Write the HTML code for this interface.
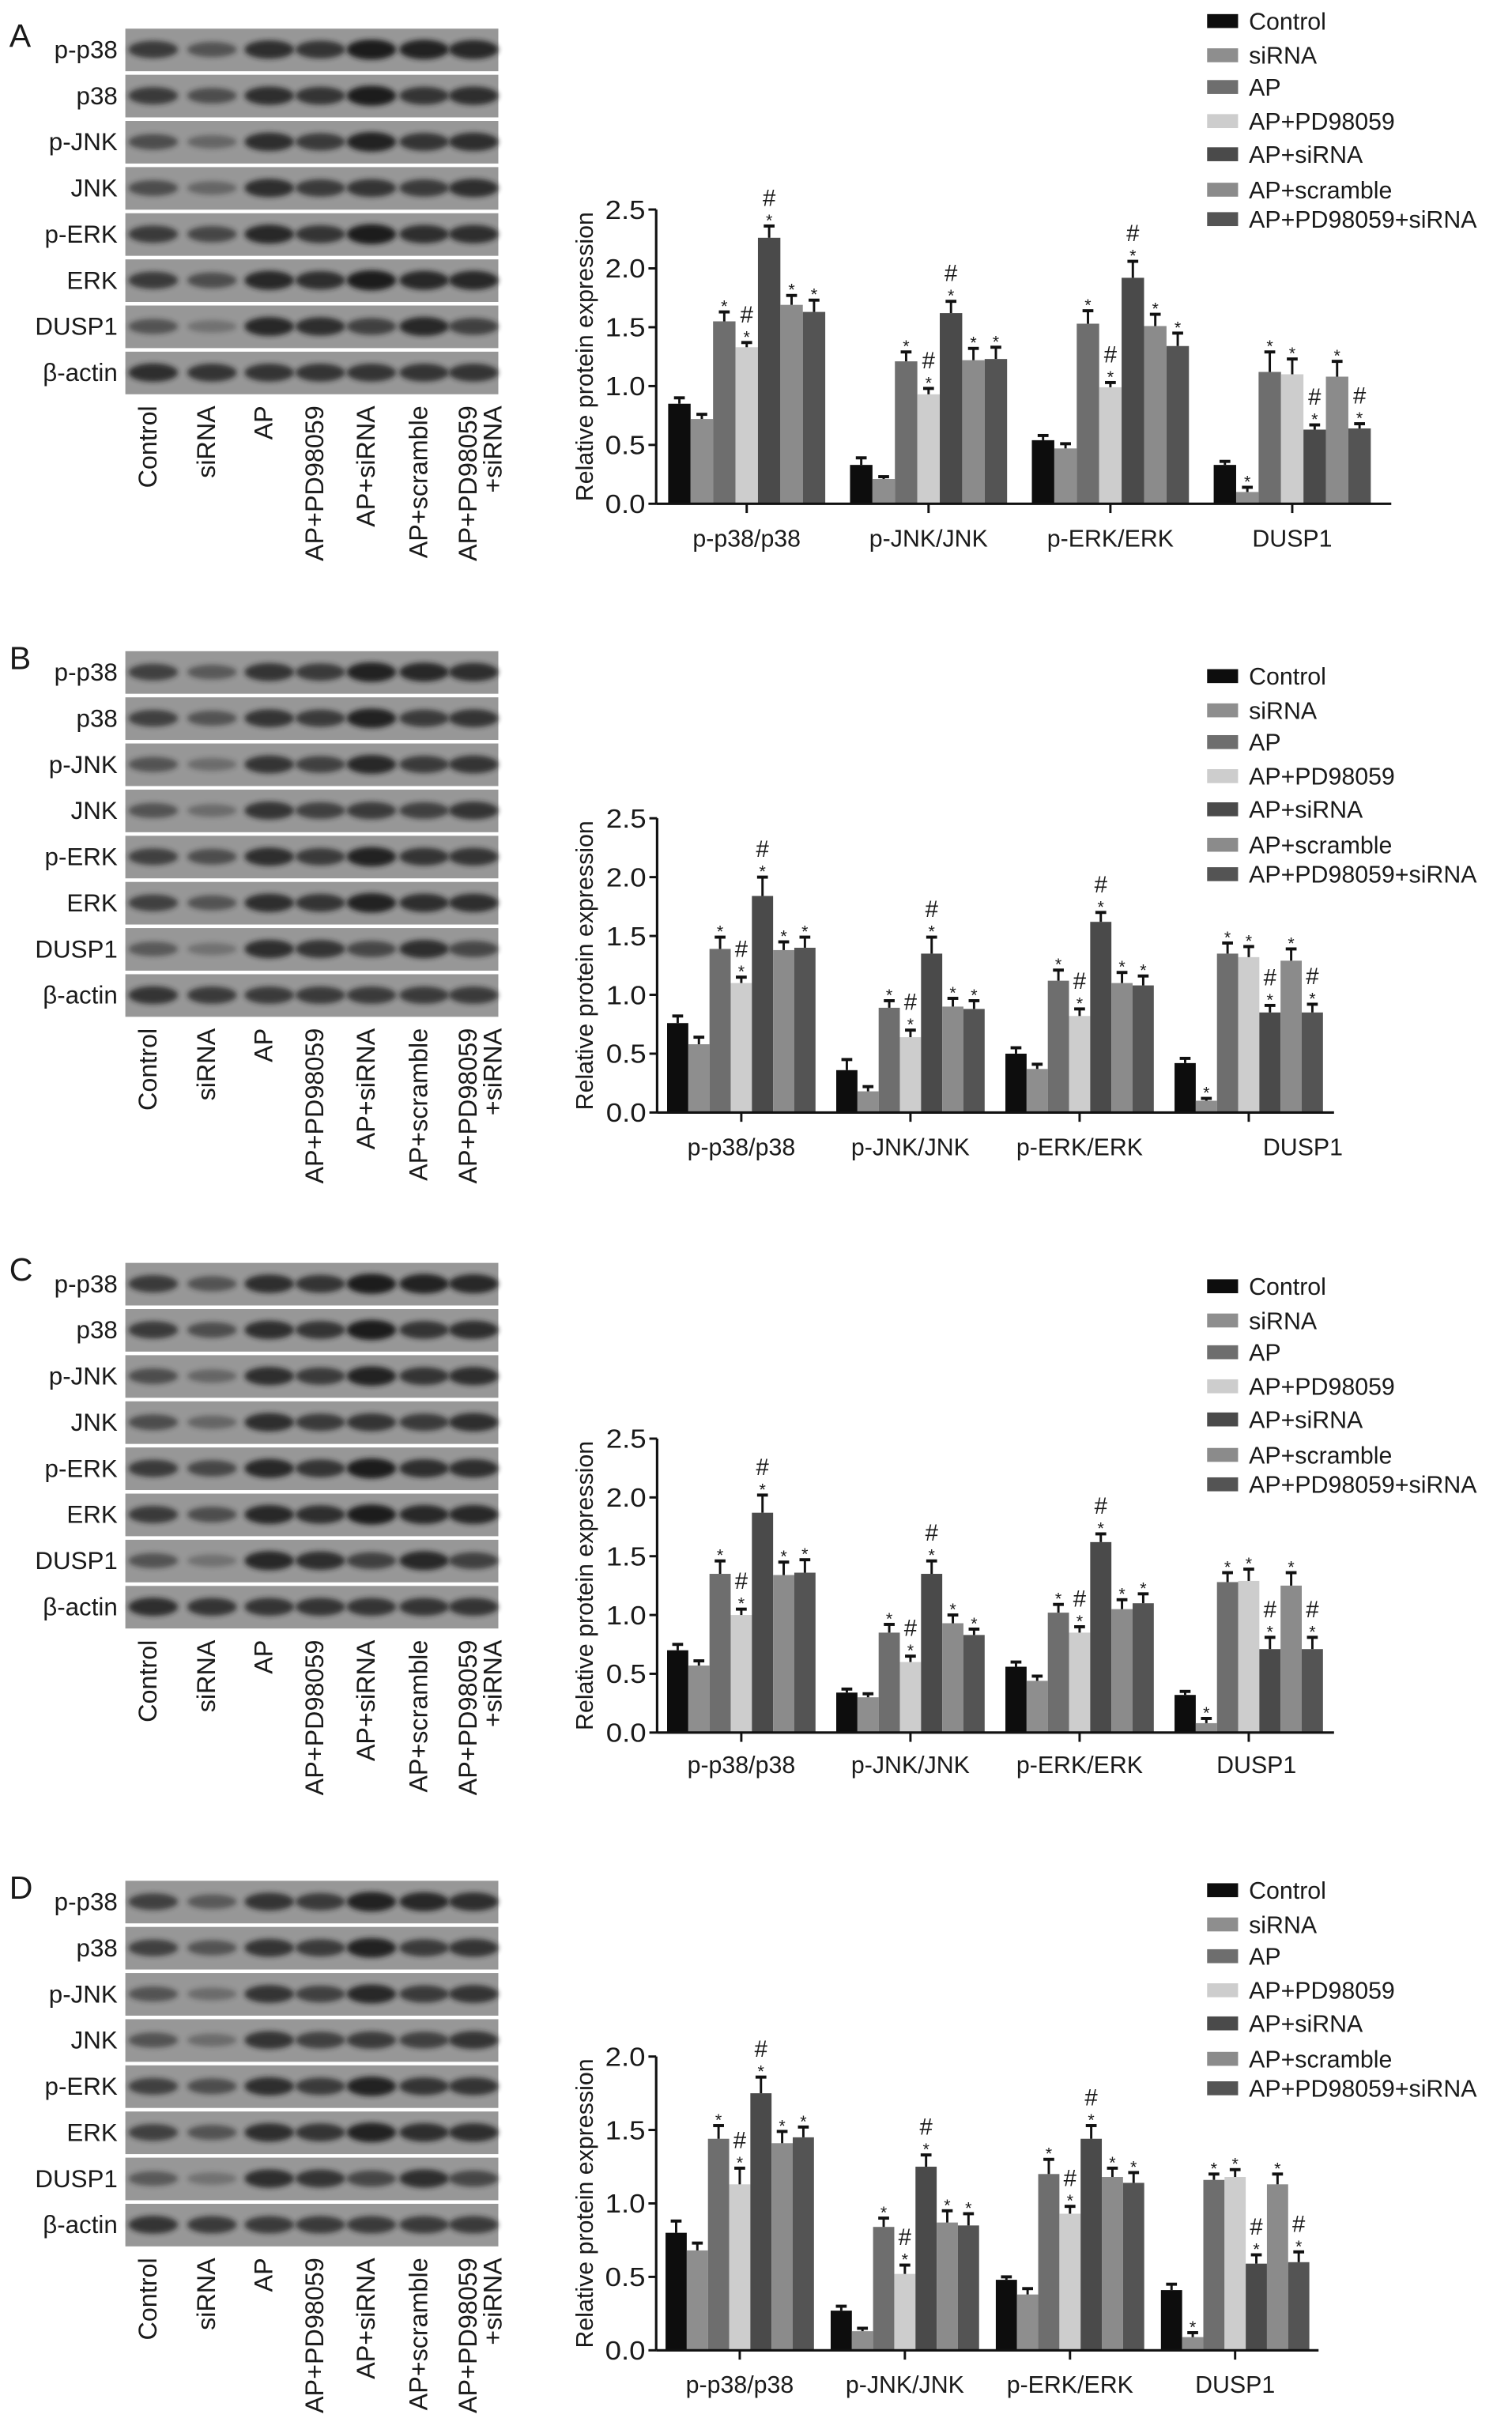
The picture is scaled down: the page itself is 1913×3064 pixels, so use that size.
<!DOCTYPE html>
<html><head><meta charset="utf-8">
<style>
html,body{margin:0;padding:0;background:#fff;}
svg{display:block;}
text{font-family:"Liberation Sans",Arial,sans-serif;fill:#1a1a1a;}
</style></head>
<body>
<svg id="fig" width="1913" height="3064" viewBox="0 0 977 1564" preserveAspectRatio="none" xmlns="http://www.w3.org/2000/svg">
<defs><filter id="blur" x="-20%" y="-50%" width="140%" height="200%"><feGaussianBlur stdDeviation="1.6"/></filter></defs>
</svg>
<script>
// ---- data ----
const groups = ["Control","siRNA","AP","AP+PD98059","AP+siRNA","AP+scramble","AP+PD98059+siRNA"];
const colors = ["#0d0d0d","#8e8e8e","#6e6e6e","#cdcdcd","#4a4a4a","#8b8b8b","#545454"];
const categories = ["p-p38/p38","p-JNK/JNK","p-ERK/ERK","DUSP1"];
const blotRows = ["p-p38","p38","p-JNK","JNK","p-ERK","ERK","DUSP1","β-actin"];
const panelLetters = ["A","B","C","D"];
const yTicksA = ["0.0","0.5","1.0","1.5","2.0","2.5"];
const yTicksD = ["0.0","0.5","1.0","1.5","2.0"];
const valuesA = [[0.85,0.72,1.55,1.33,2.26,1.69,1.63],[0.33,0.21,1.21,0.93,1.62,1.22,1.23],[0.54,0.47,1.53,0.99,1.92,1.51,1.34],[0.33,0.10,1.12,1.10,0.63,1.08,0.64]];
const errorsA = [[0.05,0.04,0.08,0.04,0.10,0.08,0.10],[0.06,0.02,0.08,0.05,0.10,0.10,0.10],[0.04,0.04,0.11,0.04,0.14,0.10,0.11],[0.03,0.04,0.17,0.13,0.04,0.13,0.04]];
const valuesB = [[0.76,0.58,1.39,1.10,1.84,1.38,1.40],[0.36,0.18,0.89,0.64,1.35,0.90,0.88],[0.50,0.37,1.12,0.82,1.62,1.10,1.08],[0.42,0.10,1.35,1.32,0.85,1.29,0.85]];
const errorsB = [[0.06,0.06,0.10,0.05,0.16,0.07,0.09],[0.09,0.04,0.06,0.06,0.14,0.07,0.07],[0.05,0.04,0.09,0.06,0.08,0.09,0.08],[0.04,0.02,0.09,0.09,0.06,0.10,0.07]];
const valuesC = [[0.70,0.57,1.35,1.00,1.87,1.34,1.36],[0.34,0.30,0.85,0.60,1.35,0.93,0.83],[0.56,0.44,1.02,0.85,1.62,1.05,1.10],[0.32,0.08,1.28,1.29,0.71,1.25,0.71]];
const errorsC = [[0.05,0.04,0.11,0.05,0.15,0.11,0.11],[0.03,0.03,0.07,0.05,0.11,0.07,0.05],[0.04,0.04,0.07,0.05,0.07,0.08,0.08],[0.03,0.04,0.08,0.10,0.10,0.11,0.10]];
const valuesD = [[0.80,0.68,1.44,1.13,1.75,1.41,1.45],[0.27,0.13,0.84,0.52,1.25,0.87,0.85],[0.48,0.38,1.20,0.93,1.44,1.18,1.14],[0.41,0.09,1.16,1.18,0.59,1.13,0.60]];
const errorsD = [[0.08,0.05,0.09,0.11,0.11,0.08,0.07],[0.03,0.02,0.06,0.06,0.08,0.08,0.08],[0.02,0.04,0.10,0.05,0.09,0.06,0.07],[0.04,0.03,0.04,0.05,0.06,0.07,0.07]];
const starIdx = [[2,3,4,5,6],[2,3,4,5,6],[2,3,4,5,6],[1,2,3,4,5,6]];
const hashIdx = [[3,4],[3,4],[3,4],[4,6]];
const bandA = [[.75,.55,.85,.8,1,.95,.9],[.75,.6,.85,.8,1,.8,.85],[.6,.4,.85,.75,.95,.8,.85],[.6,.4,.85,.75,.8,.75,.85],[.75,.65,.9,.8,1,.85,.85],[.75,.6,.9,.85,1,.9,.9],[.55,.3,.9,.85,.7,.9,.7],[.85,.8,.8,.8,.8,.8,.8]];
const allValues=[valuesA,valuesB,valuesC,valuesD];
const allErrors=[errorsA,errorsB,errorsC,errorsD];
const yMaxes=[2.5,2.5,2.5,2.0];

const NS="http://www.w3.org/2000/svg";
const svg=document.getElementById('fig');
function mk(tag,attrs,parent){const e=document.createElementNS(NS,tag);for(const k in attrs)e.setAttribute(k,attrs[k]);(parent||svg).appendChild(e);return e;}

const geo=[
 {blotDy:0,legDy:0,ax:424,c0:482.5,sp:117.5,bw:14.5,y0:325.3,yTop:135.3,xEnd:899,titleX:383,labY:348,lastLabDx:0},
 {blotDy:402,legDy:423,ax:424.6,c0:479,sp:109.3,bw:13.7,y0:718.4,yTop:528.4,xEnd:862,titleX:383,labY:741,lastLabDx:35},
 {blotDy:797,legDy:817,ax:424.6,c0:479,sp:109.3,bw:13.7,y0:1118.8,yTop:929,xEnd:862,titleX:383,labY:1140,lastLabDx:5},
 {blotDy:1196,legDy:1207,ax:424,c0:478,sp:106.7,bw:13.7,y0:1517.7,yTop:1328,xEnd:852,titleX:383,labY:1540,lastLabDx:0}
];
const laneX=[95,133,170,203,236,270,302];
const legRowY=[13.6,35.7,56.2,78.2,99.6,122.5,141.5];

geo.forEach((g,p)=>{
  const G=mk('g',{});
  
  
  const L=mk('text',{x:6,y:g.blotDy+30,'font-size':21},G);
  L.textContent=panelLetters[p];
  
  
  blotRows.forEach((r,i)=>{
    const top=g.blotDy+18.5+i*29.8;
    const rg=mk('g',{},G);
    
    
    mk('rect',{x:81,y:top,width:241,height:27.5,fill:'#979797'},rg);
    laneX.forEach((lx,j)=>{
      const v=bandA[i][j];
      const a=Math.max(.3,Math.min(1,v+(p%2?-.05:0)));
      mk('ellipse',{cx:lx+4,cy:top+13.5,rx:16,ry:3+a*3.5,fill:'#1c1c1c',opacity:a,filter:'url(#blur)'},rg);
    });
    const t=mk('text',{x:76,y:top+19,'font-size':16,'text-anchor':'end'},G);
    t.textContent=r;
    
    
  });
  const laneTxt=["Control","siRNA","AP","AP+PD98059","AP+siRNA","AP+scramble","AP+PD98059"];
  laneTxt.forEach((s,j)=>{
    const x=laneX[j]+6, y=g.blotDy+262;
    const t=mk('text',{x:0,y:0,'font-size':16.5,'text-anchor':'end',transform:`translate(${x},${y}) rotate(-90)`},G);
    t.textContent=s;
    
    
  });
  const t2=mk('text',{x:0,y:0,'font-size':16.5,'text-anchor':'end',transform:`translate(${laneX[6]+22},${g.blotDy+262}) rotate(-90)`},G);
  t2.textContent="+siRNA";
  
  
  groups.forEach((s,k)=>{
    const cy=g.legDy+legRowY[k];
    const lg=mk('g',{},G);
    
    
    mk('rect',{x:780,y:cy-4.5,width:20,height:9,fill:colors[k]},lg);
    const t=mk('text',{x:807,y:cy+5.5,'font-size':15.5},lg);
    t.textContent=s;
  });
  const vals=allValues[p], errs=allErrors[p], ymax=yMaxes[p];
  const yS=v=>g.y0-(v/ymax)*(g.y0-g.yTop);
  const xS=(c,k)=>g.c0+(k-3.5)*g.bw+c*g.sp;
  const ticks=p===3?yTicksD:yTicksA;
  const ch=mk('g',{},G);
  
  
  vals.forEach((row,c)=>{
    row.forEach((v,k)=>{
      const x=xS(c,k), y=yS(v), e=yS(v+errs[c][k]);
      const b=mk('rect',{x:x,y:y,width:g.bw,height:g.y0-y,fill:colors[k]},ch);
      
      
      const cx=x+g.bw/2;
      mk('line',{x1:cx,x2:cx,y1:y,y2:e,stroke:'#111','stroke-width':1.5},ch);
      mk('line',{x1:cx-3.5,x2:cx+3.5,y1:e,y2:e,stroke:'#111','stroke-width':2},ch);
      let my=e-3;
      if(starIdx[c].includes(k)){const s=mk('text',{x:cx,y:my+3,'font-size':11,'text-anchor':'middle'},ch);s.textContent='*';my-=10;}
      if(hashIdx[c].includes(k)){const h=mk('text',{x:cx,y:my,'font-size':15,'text-anchor':'middle'},ch);h.textContent='#';}
    });
    mk('line',{x1:g.c0+c*g.sp,x2:g.c0+c*g.sp,y1:g.y0,y2:g.y0+6,stroke:'#111','stroke-width':1.5},ch);
    const lt=mk('text',{x:g.c0+c*g.sp+(c===3?g.lastLabDx:0),y:g.labY+5,'font-size':15.5,'text-anchor':'middle'},ch);
    lt.textContent=categories[c];
    
    
  });
  mk('line',{x1:g.ax,x2:g.xEnd,y1:g.y0,y2:g.y0,stroke:'#111','stroke-width':1.6},ch);
  mk('line',{x1:g.ax,x2:g.ax,y1:g.yTop,y2:g.y0,stroke:'#111','stroke-width':1.6},ch);
  ticks.forEach(tk=>{
    const y=yS(parseFloat(tk));
    mk('line',{x1:g.ax-5,x2:g.ax,y1:y,y2:y,stroke:'#111','stroke-width':1.5},ch);
    const t=mk('text',{x:g.ax-7,y:y+6,'font-size':17,'text-anchor':'end',textLength:26,lengthAdjust:'spacingAndGlyphs'},ch);
    t.textContent=tk;
    
    
  });
  const yt=mk('text',{x:0,y:0,'font-size':15.5,'text-anchor':'middle',transform:`translate(${g.titleX},${(g.y0+g.yTop)/2}) rotate(-90)`},ch);
  yt.textContent='Relative protein expression';
  
  
});
</script>
</body></html>
